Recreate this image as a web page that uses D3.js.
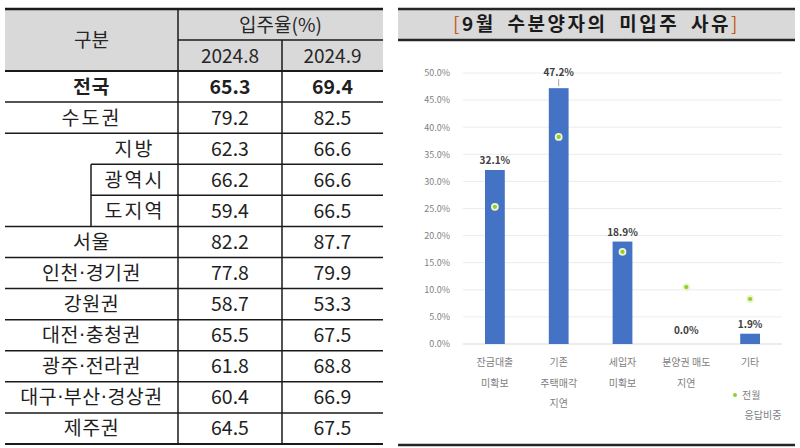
<!DOCTYPE html>
<html>
<head>
<meta charset="utf-8">
<script src="https://cdn.jsdelivr.net/npm/d3@7"></script>
<style>
  body { margin: 0; background: #fff; }
  svg { display: block; font-family: "Noto Sans CJK KR", "Noto Sans", sans-serif; }
</style>
</head>
<body>
<div id="chart"></div>
<script>
// table data
const regions = ["전국", "수도권", "지방", "광역시", "도지역", "서울", "인천·경기권", "강원권", "대전·충청권", "광주·전라권", "대구·부산·경상권", "제주권"]
const rateAug = [65.3, 79.2, 62.3, 66.2, 59.4, 82.2, 77.8, 58.7, 65.5, 61.8, 60.4, 64.5]
const rateSep = [69.4, 82.5, 66.6, 66.6, 66.5, 87.7, 79.9, 53.3, 67.5, 68.8, 66.9, 67.5]
const months = ["2024.8", "2024.9"]
const nested = ["지방", "광역시", "도지역"]

// bar chart data
const reasons = [["잔금대출", "미확보"], ["기존", "주택매각", "지연"], ["세입자", "미확보"], ["분양권 매도", "지연"], ["기타"]]
const shareSep = [32.1, 47.2, 18.9, 0.0, 1.9]
const sharePrev = [25.3, 38.2, 17.0, 10.5, 8.3]
const yTicks = [0, 5, 10, 15, 20, 25, 30, 35, 40, 45, 50]

const W = 800, H = 448
const svg = d3.select("#chart").append("svg").attr("width", W).attr("height", H)

// ---------- left table ----------
const tbl = { left: 5, right: 383, top: 9, headMid: 40, headBottom: 71, bottom: 444, col1: 178, col2: 282, sub: 91 }

const row = d3.scaleBand()
  .domain(regions)
  .range([tbl.headBottom, tbl.bottom])

const colCenter = [(tbl.col1 + tbl.col2) / 2, (tbl.col2 + tbl.right) / 2]

svg.append("rect")
  .attr("x", tbl.left).attr("y", tbl.top)
  .attr("width", tbl.right - tbl.left).attr("height", tbl.headBottom - tbl.top)
  .attr("fill", "#d9d9d9")

const lines = svg.append("g").attr("stroke", "#1a1a1a")

// horizontal row lines
regions.forEach(function(r, i) {
  if (i == 0) return
  const x0 = (r == "광역시" || r == "도지역") ? tbl.sub : tbl.left
  lines.append("line")
    .attr("x1", x0).attr("x2", tbl.right)
    .attr("y1", row(r)).attr("y2", row(r))
    .attr("stroke-width", 1.5)
})
lines.append("line").attr("x1", tbl.left).attr("x2", tbl.right)
  .attr("y1", tbl.top).attr("y2", tbl.top).attr("stroke-width", 2.5)
lines.append("line").attr("x1", tbl.left).attr("x2", tbl.right)
  .attr("y1", tbl.headBottom).attr("y2", tbl.headBottom).attr("stroke-width", 2)
lines.append("line").attr("x1", tbl.col1).attr("x2", tbl.right)
  .attr("y1", tbl.headMid).attr("y2", tbl.headMid).attr("stroke-width", 1.5)
lines.append("line").attr("x1", tbl.left).attr("x2", tbl.right)
  .attr("y1", tbl.bottom).attr("y2", tbl.bottom).attr("stroke-width", 2)

// vertical lines
lines.append("line").attr("x1", tbl.col1).attr("x2", tbl.col1)
  .attr("y1", tbl.top).attr("y2", tbl.bottom).attr("stroke-width", 1.5)
lines.append("line").attr("x1", tbl.col2).attr("x2", tbl.col2)
  .attr("y1", tbl.headMid).attr("y2", tbl.bottom).attr("stroke-width", 1.5)
lines.append("line").attr("x1", tbl.sub).attr("x2", tbl.sub)
  .attr("y1", row("광역시")).attr("y2", row("서울")).attr("stroke-width", 1.5)

// header text
const head = svg.append("g").attr("fill", "#262626").attr("font-size", 19).attr("text-anchor", "middle")
head.append("text").attr("x", (tbl.left + tbl.col1) / 2).attr("y", (tbl.top + tbl.headBottom) / 2 + 7).text("구분")
head.append("text").attr("x", (tbl.col1 + tbl.right) / 2).attr("y", (tbl.top + tbl.headMid) / 2 + 7).text("입주율(%)")
months.forEach(function(m, i) {
  head.append("text").attr("x", colCenter[i]).attr("y", (tbl.headMid + tbl.headBottom) / 2 + 7).text(m)
})

// body text
const body = svg.append("g").attr("fill", "#1f1f1f").attr("font-size", 19.5).attr("text-anchor", "middle")
regions.forEach(function(r, i) {
  const cy = row(r) + row.bandwidth() / 2 + 7
  const bold = i == 0 ? "bold" : "normal"
  const lx = nested.includes(r) ? (tbl.sub + tbl.col1) / 2 : (tbl.left + tbl.col1) / 2
  const t = body.append("text").attr("x", lx).attr("y", cy).attr("font-weight", bold)
    .attr("letter-spacing", nested.includes(r) || r == "수도권" ? 2 : 0.5)
  // narrow middle dot like the original font
  r.split("·").forEach(function(part, k) {
    if (k > 0) t.append("tspan").attr("font-family", "'DejaVu Sans', sans-serif").text("·")
    t.append("tspan").text(part)
  })
  body.append("text").attr("x", colCenter[0]).attr("y", cy).attr("font-weight", bold).text(rateAug[i].toFixed(1))
  body.append("text").attr("x", colCenter[1]).attr("y", cy).attr("font-weight", bold).text(rateSep[i].toFixed(1))
})

// ---------- right chart ----------
const panel = { left: 398, right: 795, top: 9, titleBottom: 40, bottom: 445 }

svg.append("rect")
  .attr("x", panel.left).attr("y", panel.top)
  .attr("width", panel.right - panel.left).attr("height", panel.titleBottom - panel.top)
  .attr("fill", "#d9d9d9")
const pl = svg.append("g").attr("stroke", "#262626")
pl.append("line").attr("x1", panel.left).attr("x2", panel.right).attr("y1", panel.top).attr("y2", panel.top).attr("stroke-width", 2.5)
pl.append("line").attr("x1", panel.left).attr("x2", panel.right).attr("y1", panel.titleBottom).attr("y2", panel.titleBottom).attr("stroke-width", 2.5)
pl.append("line").attr("x1", panel.left).attr("x2", panel.right).attr("y1", panel.bottom).attr("y2", panel.bottom).attr("stroke-width", 2.5)

const title = svg.append("text")
  .attr("x", (panel.left + panel.right) / 2).attr("y", 31)
  .attr("text-anchor", "middle").attr("font-size", 19).attr("font-weight", "bold")
  .attr("letter-spacing", 2.5).attr("word-spacing", 5).attr("fill", "#1a1a1a")
title.append("tspan").attr("fill", "#c55a11").attr("font-weight", "normal").text("[")
title.append("tspan").text("9월 수분양자의 미입주 사유")
title.append("tspan").attr("fill", "#c55a11").attr("font-weight", "normal").text("]")

const x = d3.scaleBand()
  .domain(d3.range(reasons.length))
  .range([463, 782])
  .paddingInner(0.69)
  .paddingOuter(0.345)

const y = d3.scaleLinear()
  .domain([0, 50])
  .range([344, 73])

// gridlines
svg.append("g")
  .selectAll("line")
  .data(yTicks)
  .join("line")
  .attr("x1", 463).attr("x2", 782)
  .attr("y1", d => y(d)).attr("y2", d => y(d))
  .attr("stroke", d => d == 0 ? "#d9d9d9" : "#ececec")
  .attr("stroke-width", 1)

// y axis labels
const yAxis = d3.axisLeft(y).tickValues(yTicks).tickSize(0).tickPadding(0)
  .tickFormat(d => d.toFixed(1) + "%")
const gy = svg.append("g").attr("transform", "translate(450,0)").call(yAxis)
gy.select(".domain").remove()
gy.selectAll("text").attr("fill", "#7f7f7f").attr("font-size", 9)
  .attr("font-family", "'Noto Sans CJK KR', sans-serif")

// bars
svg.append("g")
  .selectAll("rect")
  .data(shareSep)
  .join("rect")
  .attr("x", (d, i) => x(i))
  .attr("y", d => y(d))
  .attr("width", x.bandwidth())
  .attr("height", d => y(0) - y(d))
  .attr("fill", "#4472c4")

// value labels
svg.append("g")
  .selectAll("text")
  .data(shareSep)
  .join("text")
  .attr("x", (d, i) => x(i) + x.bandwidth() / 2)
  .attr("y", d => d > 40 ? y(d) - 12 : Math.min(y(d) - 6, y(0) - 10))
  .attr("text-anchor", "middle")
  .attr("font-size", 10).attr("font-weight", "bold").attr("fill", "#404040")
  .text(d => d.toFixed(1) + "%")

// leader line for the tallest label
const iMax = d3.maxIndex(shareSep)
svg.append("line")
  .attr("x1", x(iMax) + x.bandwidth() / 2).attr("x2", x(iMax) + x.bandwidth() / 2)
  .attr("y1", y(shareSep[iMax]) - 9).attr("y2", y(shareSep[iMax]) - 2)
  .attr("stroke", "#a6a6a6").attr("stroke-width", 1)

// previous month markers
svg.append("g")
  .selectAll("circle")
  .data(sharePrev)
  .join("circle")
  .attr("cx", (d, i) => x(i) + x.bandwidth() / 2)
  .attr("cy", d => y(d))
  .attr("r", 3)
  .attr("fill", "#8fcf2f")
  .attr("stroke", "#eef3cf")
  .attr("stroke-width", 1.8)

// category labels
const xl = svg.append("g").attr("fill", "#808080").attr("font-size", 10).attr("text-anchor", "middle")
reasons.forEach(function(lbl, i) {
  lbl.forEach(function(t, j) {
    xl.append("text")
      .attr("x", x(i) + x.bandwidth() / 2)
      .attr("y", 366 + j * 20.5)
      .text(t)
  })
})

// legend
svg.append("circle").attr("cx", 735).attr("cy", 395).attr("r", 2).attr("fill", "#8fcf2f")
xl.append("text").attr("x", 742).attr("y", 399).attr("text-anchor", "start").text("전월")
xl.append("text").attr("x", 763).attr("y", 419).text("응답비중")
</script>
</body>
</html>
